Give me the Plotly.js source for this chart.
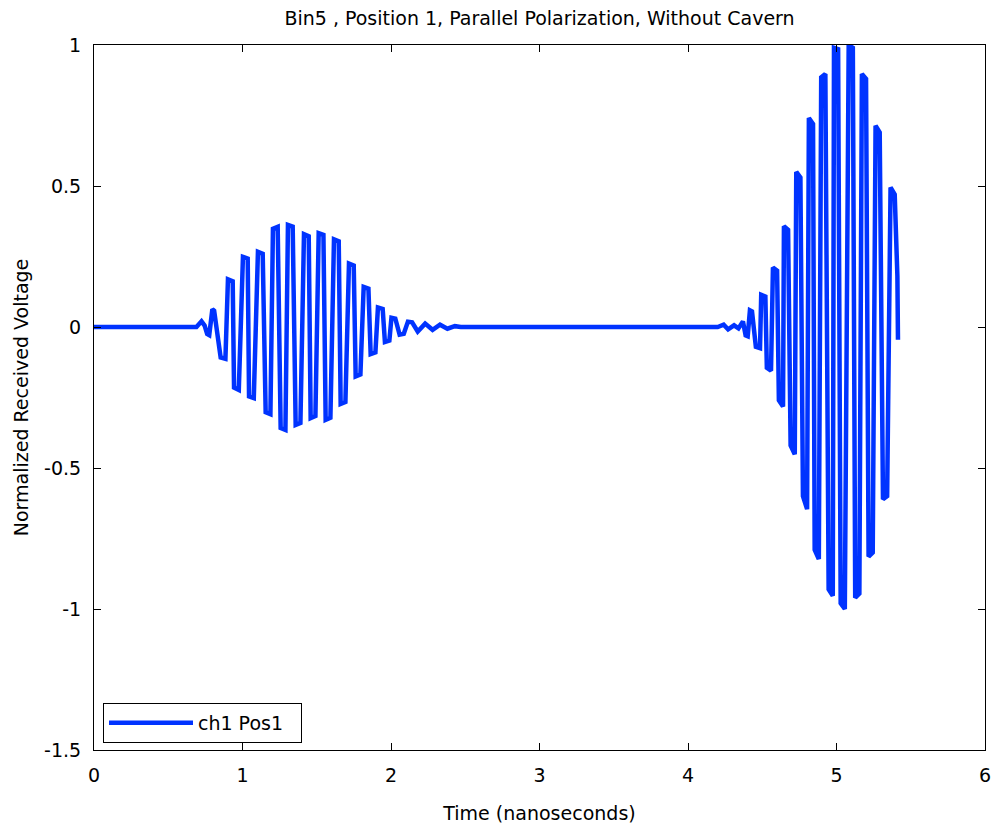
<!DOCTYPE html>
<html>
<head>
<meta charset="utf-8">
<script src="https://cdn.plot.ly/plotly-3.0.1.min.js"></script>
<style>
  html, body { margin: 0; padding: 0; background: #fff; }
  #chart { width: 995px; height: 828px; }
</style>
</head>
<body>
<div id="chart"></div>
<script>
// ---- Data (time in ns, normalized voltage) ----
const leadTime = [0, 0.40, 0.69, 0.724, 0.745];
const leadVolt = [0, 0, 0, 0.02, 0.005];

const burst1Time = [
  0.762, 0.776, 0.797, 0.809, 0.853, 0.885, 0.902, 0.934,
  0.943, 0.975, 1.003, 1.035, 1.044, 1.076, 1.104, 1.136,
  1.156, 1.188, 1.205, 1.237, 1.257, 1.289, 1.306, 1.338,
  1.358, 1.390, 1.414, 1.446, 1.459, 1.491, 1.513, 1.545,
  1.560, 1.592, 1.616, 1.648, 1.661, 1.693, 1.717, 1.749,
  1.762, 1.794, 1.816, 1.848, 1.863, 1.895, 1.912, 1.944,
  1.959, 1.989, 2.003, 2.029, 2.058, 2.086, 2.114, 2.142
];
const burst1Volt = [
  -0.025, -0.029, 0.063, 0.058, -0.108, -0.113, 0.169, 0.162,
  -0.215, -0.223, 0.249, 0.243, -0.246, -0.252, 0.267, 0.260,
  -0.302, -0.309, 0.348, 0.355, -0.358, -0.365, 0.362, 0.356,
  -0.347, -0.340, 0.329, 0.322, -0.323, -0.316, 0.333, 0.327,
  -0.329, -0.322, 0.311, 0.304, -0.273, -0.266, 0.225, 0.218,
  -0.175, -0.168, 0.142, 0.136, -0.096, -0.090, 0.069, 0.064,
  -0.053, -0.048, 0.033, 0.030, -0.027, -0.024, 0.019, 0.017
];

const gapTime = [2.18, 2.23, 2.28, 2.33, 2.38, 2.43, 2.47, 3.30, 4.20, 4.24, 4.27, 4.31, 4.34, 4.37];
const gapVolt = [-0.016, 0.012, -0.010, 0.008, -0.006, 0.003, 0, 0, 0, 0.008, -0.008, 0.006, -0.005, 0.020];

const burst2Time = [
  4.388, 4.402, 4.417, 4.431, 4.457, 4.485, 4.493, 4.521,
  4.531, 4.559, 4.572, 4.600, 4.612, 4.640, 4.646, 4.674,
  4.691, 4.719, 4.729, 4.757, 4.774, 4.802, 4.814, 4.842,
  4.853, 4.881, 4.897, 4.925, 4.947, 4.975, 4.983, 5.011,
  5.028, 5.056, 5.082, 5.110, 5.126, 5.154, 5.171, 5.199,
  5.216, 5.244, 5.263, 5.291, 5.313, 5.341, 5.364, 5.392,
  5.410, 5.414
];
const burst2Volt = [
  -0.030, -0.033, 0.059, 0.055, -0.070, -0.075, 0.114, 0.108,
  -0.145, -0.155, 0.211, 0.200, -0.260, -0.282, 0.357, 0.345,
  -0.420, -0.451, 0.550, 0.530, -0.600, -0.646, 0.741, 0.720,
  -0.790, -0.823, 0.885, 0.897, -0.930, -0.953, 0.990, 0.985,
  -0.980, -1.000, 1.000, 0.990, -0.960, -0.945, 0.897, 0.880,
  -0.814, -0.800, 0.714, 0.690, -0.611, -0.600, 0.495, 0.470,
  0.180, -0.045
];

const xTicks = [0, 1, 2, 3, 4, 5, 6];
const yTicks = [-1.5, -1, -0.5, 0, 0.5, 1];
const yTickText = ['-1.5', '-1', '-0.5', '0', '0.5', '1'];

const timeNs = leadTime.concat(burst1Time, gapTime, burst2Time);
const voltage = leadVolt.concat(burst1Volt, gapVolt, burst2Volt);

const FONT = 'DejaVu Sans, sans-serif';

const trace = {
  x: timeNs,
  y: voltage,
  type: 'scatter',
  mode: 'lines',
  name: 'ch1 Pos1\u00a0\u00a0',
  line: { color: '#0033ff', width: 4.5 },
  hoverinfo: 'skip'
};

const layout = {
  width: 995,
  height: 828,
  margin: { l: 94, r: 10, t: 45, b: 78 },
  paper_bgcolor: '#ffffff',
  plot_bgcolor: '#ffffff',
  font: { family: FONT, size: 19, color: '#000000' },
  title: {
    text: 'Bin5 , Position 1, Parallel Polarization, Without Cavern',
    font: { family: FONT, size: 19, color: '#000000' },
    xref: 'paper', x: 0.5, xanchor: 'center',
    yref: 'container', y: 1 - 18 / 828, yanchor: 'middle'
  },
  xaxis: {
    range: [0, 6],
    tickvals: xTicks,
    ticktext: xTicks.map(String),
    ticks: 'inside', ticklen: 7, tickwidth: 1, tickcolor: '#000',
    showline: true, linecolor: '#000', linewidth: 1, mirror: 'ticks',
    showgrid: false, zeroline: false,
    ticklabelstandoff: 8,
    tickfont: { family: FONT, size: 19, color: '#000' },
    title: { text: 'Time (nanoseconds)', font: { family: FONT, size: 19, color: '#000' }, standoff: 21 }
  },
  yaxis: {
    range: [-1.5, 1],
    tickvals: yTicks,
    ticktext: yTickText,
    ticks: 'inside', ticklen: 7, tickwidth: 1, tickcolor: '#000',
    showline: true, linecolor: '#000', linewidth: 1, mirror: 'ticks',
    showgrid: false, zeroline: false,
    ticklabelstandoff: 8,
    tickfont: { family: FONT, size: 19, color: '#000' },
    title: { text: 'Normalized Received Voltage', font: { family: FONT, size: 19, color: '#000' }, standoff: 10 }
  },
  showlegend: true,
  legend: {
    x: 0.0101, y: 0.0099, xanchor: 'left', yanchor: 'bottom',
    bgcolor: '#ffffff', bordercolor: '#000000', borderwidth: 1,
    font: { family: FONT, size: 19, color: '#000' },
    itemwidth: 84
  }
};

Plotly.newPlot('chart', [trace], layout, { staticPlot: true, displayModeBar: false });
</script>
</body>
</html>
